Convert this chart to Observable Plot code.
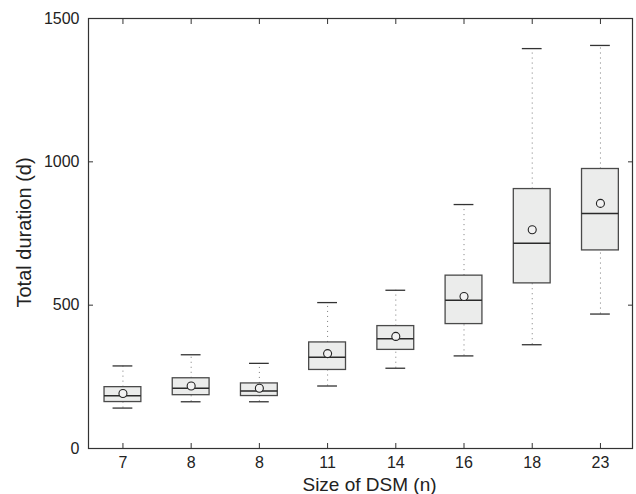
<!DOCTYPE html>
<html>
<head>
<meta charset="utf-8">
<script src="https://cdn.jsdelivr.net/npm/d3@7"></script>
<script src="https://cdn.jsdelivr.net/npm/@observablehq/plot@0.6"></script>
<style>
  html, body { margin: 0; padding: 0; background: #fff; }
  #chart svg { display: block; }
</style>
</head>
<body>
<div id="chart"></div>
<script>
// Data
const sizes = ["7", "8", "8", "11", "14", "16", "18", "23"];
const whiskerLow  = [141, 163, 163, 218, 280, 323, 362, 469];
const q1          = [162, 186, 183, 274, 344, 434, 576, 691];
const median      = [184, 210, 201, 318, 383, 517, 716, 820];
const mean        = [192, 218, 210, 331, 391, 530, 763, 855];
const q3          = [214, 245, 227, 370, 427, 603, 905, 975];
const whiskerHigh = [288, 327, 297, 509, 552, 851, 1395, 1406];
const yTicks = [0, 500, 1000, 1500];
const xLabel = "Size of DSM (n)";
const yLabel = "Total duration (d)";

const rows = sizes.map((s, k) => ({
  i: k + 1, label: s,
  lo: whiskerLow[k], q1: q1[k], med: median[k], mean: mean[k], q3: q3[k], hi: whiskerHigh[k]
}));
const xTicks = rows.map(d => d.i);

const boxHalf = 0.27;
const capHalf = 0.145;
const font = "'Liberation Sans', Arial, Helvetica, sans-serif";

const chart = Plot.plot({
  width: 636,
  height: 494,
  marginLeft: 88,
  marginRight: 4,
  marginTop: 18,
  marginBottom: 46,
  style: { fontFamily: font, fontSize: "16px", color: "#222", background: "#fff" },
  x: { domain: [0.495, 8.47], ticks: xTicks, tickFormat: d => sizes[d - 1] },
  y: { domain: [0, 1500], ticks: yTicks, tickFormat: d => String(d) },
  marks: [
    // dotted whiskers
    Plot.ruleX(rows, { x: "i", y1: "q3", y2: "hi", stroke: "#7a7a7a", strokeWidth: 1, strokeDasharray: "1,4" }),
    Plot.ruleX(rows, { x: "i", y1: "lo", y2: "q1", stroke: "#7a7a7a", strokeWidth: 1, strokeDasharray: "1,4" }),
    // caps
    Plot.ruleY(rows, { y: "hi", x1: d => d.i - capHalf, x2: d => d.i + capHalf, stroke: "#333", strokeWidth: 1.3 }),
    Plot.ruleY(rows, { y: "lo", x1: d => d.i - capHalf, x2: d => d.i + capHalf, stroke: "#333", strokeWidth: 1.3 }),
    // boxes
    Plot.rect(rows, { x1: d => d.i - boxHalf, x2: d => d.i + boxHalf, y1: "q1", y2: "q3", fill: "#ebeceb", stroke: "#4a4a4a", strokeWidth: 1.3 }),
    // medians
    Plot.ruleY(rows, { y: "med", x1: d => d.i - boxHalf, x2: d => d.i + boxHalf, stroke: "#2a2a2a", strokeWidth: 1.5 }),
    // means
    Plot.dot(rows, { x: "i", y: "mean", r: 4, fill: "#f2f2f2", stroke: "#222", strokeWidth: 1.1 }),
    // frame
    Plot.frame({ stroke: "#333", strokeWidth: 1.2 }),
    // inward ticks
    Plot.axisY(yTicks, { anchor: "left", tickSize: 5, dx: 5, fill: "none", label: null, stroke: "#333" }),
    Plot.axisY(yTicks, { anchor: "right", tickSize: 5, dx: -5, fill: "none", label: null, stroke: "#333" }),
    Plot.axisX(xTicks, { anchor: "bottom", tickSize: 5, dy: -5, fill: "none", label: null, stroke: "#333" }),
    Plot.axisX(xTicks, { anchor: "top", tickSize: 5, dy: 5, fill: "none", label: null, stroke: "#333" }),
    // tick labels
    Plot.axisY(yTicks, { anchor: "left", tickSize: 0, tickPadding: 9, label: null, fontSize: 16, fill: "#222", tickFormat: d => String(d) }),
    Plot.axisX(xTicks, { anchor: "bottom", tickSize: 0, tickPadding: 8, label: null, fontSize: 16, fill: "#222", tickFormat: d => sizes[d - 1] }),
    // axis titles
    Plot.text([xLabel], { frameAnchor: "bottom", text: d => d, lineAnchor: "top", dy: 29, dx: 9, fontSize: 19, fill: "#222" }),
    Plot.text([yLabel], { frameAnchor: "left", text: d => d, rotate: -90, dx: -64, dy: 74, fontSize: 20, fill: "#222" })
  ]
});
document.getElementById("chart").append(chart);
</script>
</body>
</html>
